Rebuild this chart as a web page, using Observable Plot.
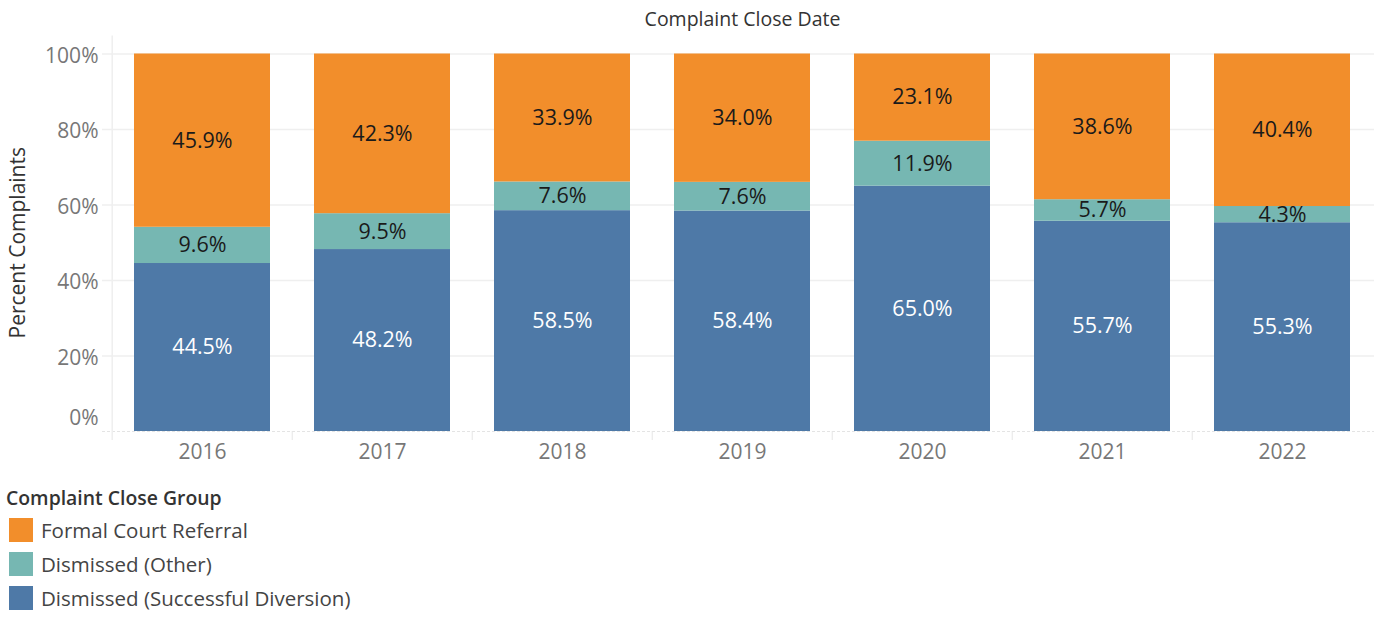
<!DOCTYPE html>
<html>
<head>
<meta charset="utf-8">
<script src="https://cdn.jsdelivr.net/npm/d3@7"></script>
<script src="https://cdn.jsdelivr.net/npm/@observablehq/plot@0.6"></script>
<style>
  html, body { margin: 0; padding: 0; background: #fff; }
  body { width: 1374px; height: 626px; overflow: hidden; font-family: "Open Sans", sans-serif; }
  #legend { position: absolute; left: 6px; top: 483px; color: #333; }
  #legend .ttl { font-size: 19.4px; font-weight: 600; height: 30px; line-height: 30px; color: #333; }
  #legend .row { display: flex; align-items: center; height: 34px; font-size: 20.5px; color: #444; }
  #legend .sw { width: 24px; height: 24px; margin-left: 3px; margin-right: 8px; }
  #chart { position: absolute; left: 0; top: 0; }
</style>
</head>
<body>
<div id="chart"></div>
<div id="legend"></div>
<script>
const years = ["2016", "2017", "2018", "2019", "2020", "2021", "2022"];
const groups = ["Formal Court Referral", "Dismissed (Other)", "Dismissed (Successful Diversion)"];
const colors = ["#F28E2B", "#76B7B2", "#4E79A7"];
const diversion = [44.5, 48.2, 58.5, 58.4, 65.0, 55.7, 55.3];
const other = [9.6, 9.5, 7.6, 7.6, 11.9, 5.7, 4.3];
const formal = [45.9, 42.3, 33.9, 34.0, 23.1, 38.6, 40.4];
const yTicks = [0, 0.2, 0.4, 0.6, 0.8, 1.0];

const stackOrder = ["Dismissed (Successful Diversion)", "Dismissed (Other)", "Formal Court Referral"];
const series = {"Formal Court Referral": formal, "Dismissed (Other)": other, "Dismissed (Successful Diversion)": diversion};
const data = [];
for (const g of stackOrder) {
  years.forEach((yr, i) => data.push({year: yr, group: g, value: series[g][i] / 100}));
}

const W = 1374, H = 470, mL = 110, mR = 0, mT = 53.5, mB = 39;
const step = (W - mL - mR) / years.length;
const font = '"Open Sans", sans-serif';

const chart = Plot.plot({
  width: W, height: H,
  marginLeft: mL, marginRight: mR, marginTop: mT, marginBottom: mB,
  style: {fontFamily: font, background: "#fff"},
  x: {domain: years, paddingInner: 0.247, paddingOuter: 0.1235, axis: null},
  y: {domain: [0, 1], axis: null},
  color: {domain: groups, range: colors},
  marks: [
    Plot.ruleY(yTicks.slice(1), {stroke: "#efefef", strokeWidth: 1.5, insetLeft: -8}),
    Plot.ruleY([0], {stroke: "#e4e4e4", strokeDasharray: "3,2", insetLeft: -8}),
    Plot.ruleX([years[0]], {dx: -step / 2, stroke: "#efefef", strokeWidth: 1.5, insetTop: -18, insetBottom: -9}),
    Plot.ruleX(years.slice(1), {dx: -step / 2, y1: 0, y2: 0, stroke: "#e6e6e6", insetBottom: -9}),
    Plot.barY(data, {x: "year", y: "value", fill: "group", order: stackOrder}),
    Plot.text(data, Plot.stackY({
      x: "year", y: "value", z: "group", order: stackOrder,
      text: d => (d.value * 100).toFixed(1) + "%",
      fill: d => d.group === "Dismissed (Successful Diversion)" ? "#ffffff" : "#1a1a1a",
      fontSize: 21.5
    })),
    Plot.text(yTicks.slice(1), {
      y: d => d, frameAnchor: "left", dx: -12, dy: 2,
      text: d => Math.round(d * 100) + "%", textAnchor: "end", fill: "#777", fontSize: 21
    }),
    Plot.text([0], {
      y: d => d, frameAnchor: "left", dx: -12, dy: -13,
      text: d => Math.round(d * 100) + "%", textAnchor: "end", fill: "#777", fontSize: 21
    }),
    Plot.text(years, {x: d => d, frameAnchor: "bottom", lineAnchor: "middle", dy: 21, text: d => d, fill: "#777", fontSize: 21}),
    Plot.text(["Complaint Close Date"], {frameAnchor: "top", lineAnchor: "middle", dy: -34.5, text: d => d, fill: "#333", fontSize: 19.5, fontWeight: 500}),
    Plot.text(["Percent Complaints"], {frameAnchor: "left", textAnchor: "middle", lineAnchor: "middle", dx: -92, rotate: -90, text: d => d, fill: "#333", fontSize: 21})
  ]
});
document.getElementById("chart").appendChild(chart);

const leg = document.getElementById("legend");
leg.innerHTML = '<div class="ttl">Complaint Close Group</div>' +
  groups.map((g, i) => `<div class="row"><div class="sw" style="background:${colors[i]}"></div><span>${g}</span></div>`).join("");
</script>
</body>
</html>
